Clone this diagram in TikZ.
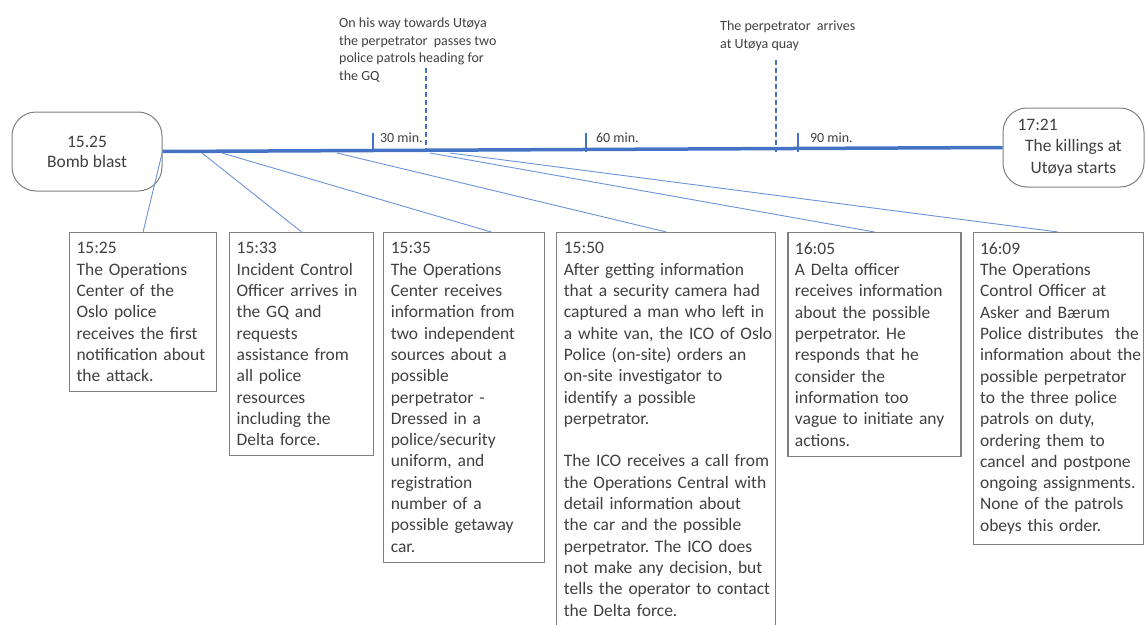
\documentclass[tikz,border=0pt]{standalone}
\usepackage{fontspec}
\setmainfont{Carlito}
\usetikzlibrary{positioning}
\definecolor{lineblue}{HTML}{4472C4}
\definecolor{linkblue}{HTML}{6A93DA}
\definecolor{boxgray}{HTML}{7F7F7F}
\definecolor{textgray}{HTML}{404040}
\frenchspacing

\begin{document}
\begin{tikzpicture}[x=1pt,y=-1pt,
    every node/.style={text=textgray},
    endnode/.style={draw=boxgray,line width=1pt,rounded corners=24pt,minimum height=79pt,align=center,font=\fontsize{17.5}{20}\selectfont},
    eventbox/.style={draw=boxgray,line width=1.1pt,align=left,inner xsep=7pt,inner ysep=10pt,font=\fontsize{17.5}{21.3}\selectfont},
    note/.style={anchor=north west,align=left,inner sep=0pt,font=\fontsize{14}{17.5}\selectfont},
    ticklabel/.style={anchor=base west,inner sep=0pt,font=\fontsize{14}{17}\selectfont},
    timeline/.style={draw=lineblue,line width=3.5pt},
    tickmark/.style={draw=lineblue,line width=2pt},
    marker/.style={draw=lineblue,line width=1.2pt,dash pattern=on 5pt off 3pt},
    link/.style={draw=linkblue,line width=0.9pt}]

    \useasboundingbox (0,0) rectangle (1145,624);

    % start and end of the timeline
    \node[endnode,minimum width=150pt] (bomb) at (87,151.5) {15.25\\Bomb blast};
    \node[endnode,minimum width=141pt,font=\fontsize{17.5}{21.5}\selectfont] (kill) at (1073.5,147.5)
        {\makebox[112pt][l]{17:21}\\The killings at\\Utøya starts};
    \draw[timeline] (bomb.east) -- (kill.west);

    % ticks
    \coordinate (t30) at (373,152);
    \coordinate (t60) at (586,152);
    \coordinate (t90) at (798,152);
    \draw[tickmark] (t30) -- ++(0,-19) node[ticklabel] (l30) at (379,142) {30 min.};
    \draw[tickmark] (t60) -- ++(0,-19) node[ticklabel] (l60) at (595,142) {60 min.};
    \draw[tickmark] (t90) -- ++(0,-19) node[ticklabel] (l90) at (809,142) {90 min.};

    % notes above the timeline
    \node[note] (pass) at (339,18) {On his way towards Utøya\\the perpetrator\ \ passes two\\police patrols heading for\\the GQ};
    \coordinate (passtop) at (426,68);
    \coordinate (passbot) at (426,152);
    \draw[marker] (passtop) -- (passbot);
    \node[note] (quay) at (720,21) {The perpetrator\ \ arrives\\at Utøya quay};
    \coordinate (quaytop) at (776,60);
    \coordinate (quaybot) at (776,152);
    \draw[marker] (quaytop) -- (quaybot);

    % events
    \node[eventbox,text width=133pt,anchor=north west] (e1) at (69,232)
        {15:25\\The Operations\\Center of the\\Oslo police\\receives the first\\notification about\\the attack.};
    \node[eventbox,text width=130pt] (e2) [right=12pt of e1.north east,anchor=north west]
        {15:33\\Incident Control\\Officer arrives in\\the GQ and\\requests\\assistance from\\all police\\resources\\including the\\Delta force.};
    \node[eventbox,text width=147pt] (e3) [right=9pt of e2.north east,anchor=north west]
        {15:35\\The Operations\\Center receives\\information from\\two independent\\sources about a\\possible\\perpetrator -\\Dressed in a\\police/security\\uniform, and\\registration\\number of a\\possible getaway\\car.};
    \node[eventbox,text width=205pt] (e4) [right=11pt of e3.north east,anchor=north west]
        {15:50\\After getting information\\\mbox{that a security camera had}\\\mbox{captured a man who left in}\\\mbox{a white van, the ICO of Oslo}\\Police (on-site) orders an\\on-site investigator to\\identify a possible\\perpetrator.\\[21.3pt]\mbox{The ICO receives a call from}\\\mbox{the Operations Central with}\\detail information about\\the car and the possible\\perpetrator. The ICO does\\not make any decision, but\\\mbox{tells the operator to contact}\\the Delta force.};
    \node[eventbox,text width=159pt] (e5) [right=11pt of e4.north east,anchor=north west]
        {16:05\\A Delta officer\\receives information\\about the possible\\perpetrator. He\\responds that he\\consider the\\information too\\\mbox{vague to initiate any}\\actions.};
    \node[eventbox,text width=156pt] (e6) [right=11pt of e5.north east,anchor=north west]
        {16:09\\The Operations\\Control Officer at\\Asker and Bærum\\\mbox{Police distributes\ \ the}\\\mbox{information about the}\\\mbox{possible perpetrator}\\to the three police\\patrols on duty,\\ordering them to\\\mbox{cancel and postpone}\\\mbox{ongoing assignments.}\\None of the patrols\\obeys this order.};

    % links from the timeline to the events
    \coordinate (a2) at (202,153);
    \coordinate (a3) at (222,153);
    \coordinate (a4) at (337,153);
    \coordinate (a5) at (430,153);
    \coordinate (a6) at (450,153);
    \draw[link] (bomb.east) -- (e1.north);
    \draw[link] (a2) -- (e2.north);
    \draw[link] (a3) -- ([xshift=27pt]e3.north);
    \draw[link] (a4) -- (e4.north);
    \draw[link] (a5) -- (e5.north);
    \draw[link] (a6) -- (e6.north);
\end{tikzpicture}
\end{document}
